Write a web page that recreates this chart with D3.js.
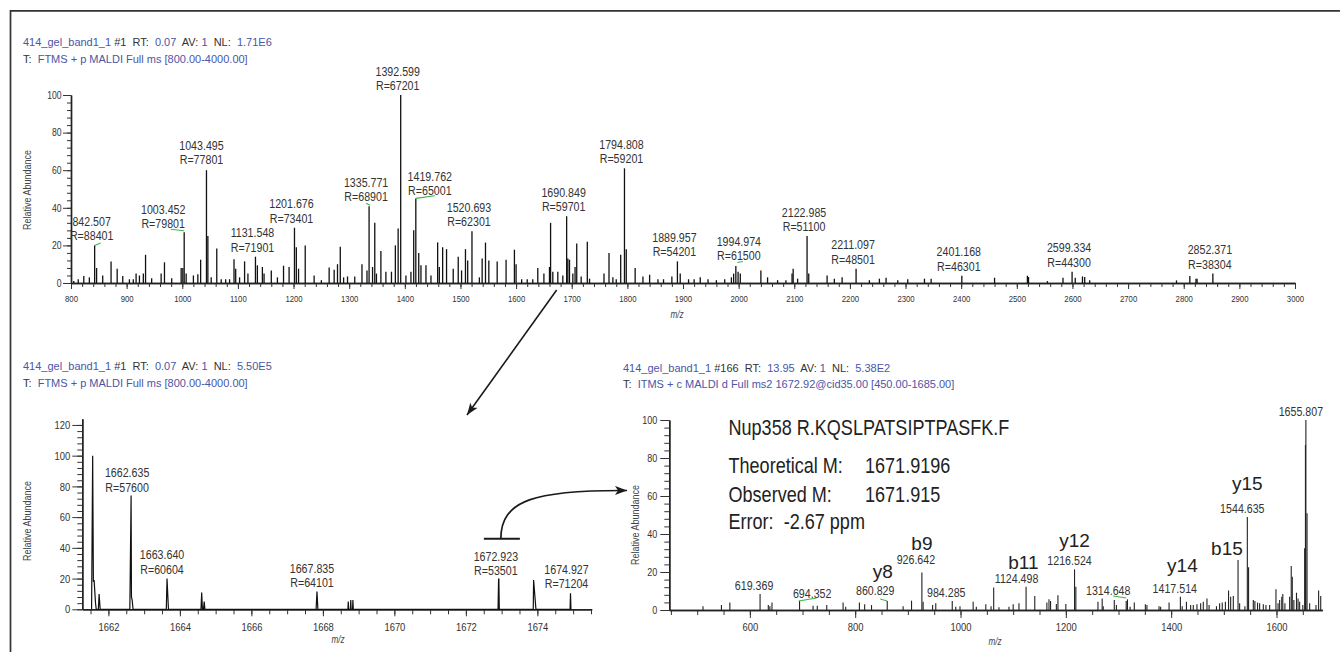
<!DOCTYPE html>
<html>
<head>
<meta charset="utf-8">
<script src="https://cdn.jsdelivr.net/npm/d3@7"></script>
<style>
  body { margin: 0; background: #fff; }
  svg text { white-space: pre; }
</style>
</head>
<body>
<div id="chart"></div>
<script>
// ---------- data ----------

// top: full MS, centroid sticks [m/z, relative abundance]
const topPeaks = [
  [805, 1], [813, 2], [823, 3.7], [833, 3], [842.507, 20], [846, 8], [857, 4], [872, 11.5], [883, 7.6], [893, 3.7],
  [905, 2], [912, 2], [917, 5], [923, 4], [930, 5], [934, 15], [945, 2.5], [962, 5], [968, 11], [981, 2.5],
  [998, 8], [1001, 8], [1003.452, 27], [1007, 5], [1020, 4], [1028, 4.6], [1033, 12.4], [1043.495, 60], [1046, 25], [1052, 3],
  [1062, 18.4], [1070, 2], [1078, 2], [1085, 2], [1093, 12.6], [1096, 7.6], [1103, 3], [1112, 11.5], [1118, 5], [1131.548, 14],
  [1135, 9.4], [1144, 8.5], [1147, 5], [1160, 6.7], [1171, 3], [1182, 9.2], [1192, 8.5], [1201.676, 29.4], [1205, 19], [1209, 7.6],
  [1221, 20], [1237, 4], [1250, 1.5], [1264, 8.3], [1273, 7], [1279, 10], [1284, 19.3], [1290, 3], [1297, 3.5], [1310, 3.5],
  [1323, 10], [1332, 6.7], [1335.771, 40.8], [1342, 8.5], [1346, 32], [1349, 5], [1357, 17], [1366, 6], [1376, 6], [1383, 20],
  [1388, 29], [1392.599, 100], [1402, 4], [1411, 6], [1416, 28], [1419.762, 45], [1425, 16], [1429, 9.4], [1438, 9.4], [1447, 4],
  [1459, 21.6], [1462, 8.5], [1468, 19], [1475, 18], [1487, 7.6], [1496, 14], [1502, 6.7], [1509, 18], [1513, 12], [1520.693, 27.5],
  [1534, 3], [1539, 13], [1545, 21.5], [1551, 12], [1566, 11.5], [1582, 12.4], [1597, 17.7], [1600, 10], [1610, 2], [1620, 2],
  [1630, 2], [1639, 8], [1650, 5], [1660, 8.5], [1662, 32], [1666, 6], [1675, 6], [1684, 4], [1690.849, 35.5], [1693, 13],
  [1696, 12.4], [1702, 5], [1706, 8.5], [1709, 21], [1717, 3.5], [1728, 22], [1732, 2.3], [1758, 5], [1767, 16], [1774, 3],
  [1780, 2], [1788, 15], [1794.808, 61], [1798, 18], [1814, 8], [1828, 3.5], [1840, 4.4], [1855, 2], [1865, 2], [1880, 3.5],
  [1889.957, 11.5], [1895, 5], [1910, 2], [1920, 2], [1931, 3], [1945, 2], [1960, 1.5], [1975, 2], [1987, 3], [1991, 5],
  [1994.974, 9], [1999, 6], [2003, 5], [2040, 6.7], [2052, 3], [2070, 1.5], [2085, 1.5], [2096, 5], [2098, 7.6], [2106, 2.3],
  [2122.985, 25], [2126, 5], [2159, 4], [2172, 2.3], [2186, 3], [2211.097, 7.6], [2235, 1.5], [2253, 2.3], [2265, 2.8], [2286, 1.4],
  [2304, 2], [2334, 2.3], [2346, 2.3], [2401.168, 3.9], [2460, 2.8], [2519, 3.9], [2521, 3.2], [2555, 1], [2583, 2.8], [2599.334, 6],
  [2605, 2.8], [2618, 3.5], [2622, 3.2], [2631, 1.4], [2787, 1.4], [2811, 3.7], [2822, 2.3], [2824, 2.3], [2852.371, 5]
];
const topLabelMz = [842.507, 1003.452, 1043.495, 1131.548, 1201.676, 1335.771, 1392.599, 1419.762, 1520.693,
  1690.849, 1794.808, 1889.957, 1994.974, 2122.985, 2211.097, 2401.168, 2599.334, 2852.371];
const topLabelR = ["R=88401", "R=79801", "R=77801", "R=71901", "R=73401", "R=68901", "R=67201", "R=65001", "R=62301",
  "R=59701", "R=59201", "R=54201", "R=61500", "R=51100", "R=48501", "R=46301", "R=44300", "R=38304"];

// bottom left: zoomed full MS, profile points [m/z, relative abundance]
const zoomProfile = [
  [1661.53, 0], [1661.56, 100], [1661.58, 18], [1661.60, 19], [1661.64, 4], [1661.66, 0], [1661.72, 0], [1661.74, 10], [1661.77, 0],
  [1662.60, 0], [1662.635, 74], [1662.645, 8], [1662.665, 6], [1662.69, 0],
  [1663.62, 0], [1663.64, 20], [1663.68, 0],
  [1664.59, 0], [1664.61, 11], [1664.63, 0], [1664.66, 0], [1664.68, 5], [1664.70, 0],
  [1667.81, 0], [1667.835, 11.5], [1667.86, 0],
  [1668.70, 0], [1668.71, 5], [1668.72, 0], [1668.77, 0], [1668.78, 6], [1668.79, 0], [1668.83, 0], [1668.84, 6], [1668.85, 0],
  [1672.90, 0], [1672.915, 19.6], [1672.923, 19.6], [1672.935, 0],
  [1673.885, 0], [1673.895, 19], [1673.96, 0],
  [1674.915, 0], [1674.927, 10.5], [1674.94, 0]
];
const zoomLabelMz = [1662.635, 1663.640, 1667.835, 1672.923, 1674.927];
const zoomLabelInt = [74, 20, 11.5, 19.6, 10.5];
const zoomLabelR = ["R=57600", "R=60604", "R=64101", "R=53501", "R=71204"];
const precursorMz = 1672.923;

// bottom right: MS2 sticks [m/z, relative abundance]
const ms2Peaks = [
  [511, 2], [546, 2.6], [562, 3.9], [619.369, 8.4], [635, 2.6], [638, 2], [642, 4], [694.352, 4.7], [720, 2.3], [728, 2.3],
  [746, 2.6], [777, 3.9], [782, 1.7], [808, 3.9], [818, 3], [831, 2.6], [860.829, 4.7], [891, 2], [907, 4.9], [926.642, 19.8],
  [929, 4.4], [947, 2.6], [953, 3.5], [984.285, 4.7], [991, 1.7], [999, 2], [1024, 4.4], [1030, 1.7], [1048, 3], [1058, 2],
  [1063, 11.8], [1073, 1.4], [1092, 1.7], [1100, 3], [1111, 3.5], [1124.498, 12.3], [1141, 7.4], [1164, 3.9], [1168, 5.6], [1171, 4.7],
  [1182, 3.2], [1185, 7.7], [1200, 3.2], [1216.524, 21.4], [1219, 12.3], [1261, 4.4], [1269, 6.1], [1271, 2], [1292, 5.3], [1296, 2.6],
  [1314.648, 4.7], [1317, 5.6], [1322, 1.7], [1330, 3.9], [1351, 3], [1354, 2.6], [1377, 2], [1380, 1.7], [1396, 3.9], [1417.514, 7],
  [1421, 2], [1429, 4.4], [1437, 2.6], [1442, 2.6], [1449, 3], [1456, 3.5], [1461, 4.4], [1468, 6.1], [1472, 2.6], [1486, 2],
  [1492, 3.5], [1497, 3.9], [1503, 4.4], [1509, 10.2], [1513, 7], [1518, 7.4], [1527, 26.3], [1530, 3.5], [1540, 2], [1544.635, 49],
  [1547, 22.5], [1556, 5.3], [1559, 4.7], [1564, 3.9], [1568, 3.5], [1575, 3], [1580, 2.6], [1587, 2.6], [1599, 10.9], [1603, 3.5],
  [1606, 5.3], [1610, 7], [1612, 8.4], [1616, 3.5], [1625, 7], [1628, 23.2], [1630, 17.5], [1633, 5.3], [1638, 9.1], [1641, 6.1],
  [1644, 4.4], [1650, 2.6], [1653.5, 32.5], [1655, 86.8], [1655.807, 100], [1658, 50.9], [1663, 3.5], [1675, 2.6], [1680, 10.2], [1684, 7.4]
];
const ms2LabelMz = [619.369, 694.352, 860.829, 926.642, 984.285, 1124.498, 1216.524, 1314.648, 1417.514, 1544.635, 1655.807];
const ionNames = ["y8", "b9", "b11", "y12", "y14", "b15", "y15"];
const ionMz = [860.829, 926.642, 1124.498, 1216.524, 1417.514, 1527, 1544.635];

const peptideLines = [
  ["Nup358 R.KQSLPATSIPTPASFK.F", ""],
  ["Theoretical M:", "1671.9196"],
  ["Observed M:", "1671.915"],
  ["Error:  -2.67 ppm", ""]
];

const titles = {
  top: [[["414_gel_band1_1", 1], [" #1  RT:  ", 0], ["0.07", 1], ["  AV: ", 0], ["1", 1], ["  NL:  ", 0], ["1.71E6", 1]],
        [["T:  ", 0], ["FTMS + p MALDI Full ms [800.00-4000.00]", 1]]],
  zoom: [[["414_gel_band1_1", 1], [" #1  RT:  ", 0], ["0.07", 1], ["  AV: ", 0], ["1", 1], ["  NL:  ", 0], ["5.50E5", 1]],
         [["T:  ", 0], ["FTMS + p MALDI Full ms [800.00-4000.00]", 1]]],
  ms2: [[["414_gel_band1_1", 1], [" #166  RT:  ", 0], ["13.95", 1], ["  AV: ", 0], ["1", 1], ["  NL:  ", 0], ["5.38E2", 1]],
        [["T:  ", 0], ["ITMS + c MALDI d Full ms2 1672.92@cid35.00 [450.00-1685.00]", 1]]]
};

// ---------- drawing ----------
const FONT = '"Liberation Sans", Arial, "Noto Sans", sans-serif';
const SX = 0.82;   // horizontal squeeze, stands in for the condensed face of the original
const BLUE = "#4a56a6", GREEN = "#3fb34f";

const svg = d3.select("#chart").append("svg")
    .attr("width", 1340).attr("height", 652)
    .attr("font-family", FONT);

// frame (only top and left edges are inside the picture)
svg.append("path")
    .attr("d", "M10.5,652 V10.8 H1340")
    .attr("fill", "none").attr("stroke", "#333").attr("stroke-width", 1.7);

svg.append("defs").append("marker").attr("id", "head")
    .attr("markerUnits", "userSpaceOnUse")
    .attr("markerWidth", 13).attr("markerHeight", 10)
    .attr("refX", 12).attr("refY", 4.5).attr("orient", "auto")
  .append("path").attr("d", "M0,0 L12,4.5 L0,9 L3,4.5 Z").attr("fill", "#1a1a1a");

// condensed text helper
function ctext(x, y, str, size, anchor, sx) {
    return svg.append("text")
        .attr("transform", `translate(${x},${y}) scale(${sx || SX},1)`)
        .attr("text-anchor", anchor || "start")
        .attr("font-size", size).attr("fill", "#333")
        .text(str);
}

function squeezeTicks(sel) {
    sel.selectAll("text").each(function () {
        const t = d3.select(this);
        const x0 = +t.attr("x") || 0;
        t.attr("x", x0 / SX).attr("transform", `scale(${SX},1)`);
    });
}

function drawTitle(lines, x, y1, y2) {
    [y1, y2].forEach((yy, i) => {
        const t = svg.append("text").attr("x", x).attr("y", yy)
            .attr("font-size", 11).attr("xml:space", "preserve");
        lines[i].forEach(p => t.append("tspan").attr("fill", p[1] ? BLUE : "#333").text(p[0]));
    });
}

function drawAxes(x, y, o) {
    const xa = svg.append("g").attr("transform", `translate(0,${y(0)})`).attr("color", "#333");
    xa.append("g").call(d3.axisBottom(x).tickValues(o.xMinor).tickSize(o.xMinorLen).tickSizeOuter(0).tickFormat(""));
    xa.append("g").call(d3.axisBottom(x).tickValues(o.xMajor).tickSize(o.xMajorLen).tickSizeOuter(0)
            .tickPadding(o.xPad).tickFormat(d3.format("d")))
        .attr("font-family", FONT).attr("font-size", o.xFont)
        .call(squeezeTicks);
    const ya = svg.append("g").attr("transform", `translate(${x.range()[0]},0)`).attr("color", "#333");
    ya.append("g").call(d3.axisLeft(y).tickValues(o.yMinor).tickSize(o.yMinorLen).tickSizeOuter(0).tickFormat(""));
    ya.append("g").call(d3.axisLeft(y).tickValues(o.yMajor).tickSize(o.yMajorLen).tickSizeOuter(0).tickPadding(o.yPad))
        .attr("font-family", FONT).attr("font-size", o.yFont)
        .call(squeezeTicks);
    svg.selectAll(".domain").attr("stroke", "#222").attr("stroke-width", 1.4);
    svg.selectAll(".tick line").attr("stroke-width", 1);

    svg.append("text")
        .attr("transform", `translate(${o.yLabelX},${o.yLabelY}) rotate(-90) scale(${SX},1)`)
        .attr("text-anchor", "middle").attr("font-size", 11).attr("fill", "#444")
        .text("Relative Abundance");
    ctext(o.mzX, o.mzY, "m/z", 10, "middle").attr("font-style", "italic").attr("fill", "#444");
}

function twoLineLabel(cx, base, l1, l2) {
    ctext(cx, base - 14.5, l1, 13, "middle");
    ctext(cx, base, l2, 13, "middle");
}

function leader(x1, y1, x2, y2) {
    svg.append("line").attr("x1", x1).attr("y1", y1).attr("x2", x2).attr("y2", y2)
        .attr("stroke", GREEN).attr("stroke-width", 1.1);
}

// ===== top panel =====
drawTitle(titles.top, 23, 46, 63);

const xTop = d3.scaleLinear().domain([800, 3000]).range([71, 1295]);
const yTop = d3.scaleLinear().domain([0, 100]).range([283, 95]);

drawAxes(xTop, yTop, {
    xMinor: d3.range(800, 3001, 20), xMajor: d3.range(800, 3001, 100),
    xMinorLen: 4, xMajorLen: 6, xPad: 6.3, xFont: 9.5,
    yMinor: d3.range(0, 101, 4), yMajor: d3.range(0, 101, 20),
    yMinorLen: 4, yMajorLen: 8, yPad: 1.5, yFont: 10.5,
    yLabelX: 31, yLabelY: 190, mzX: 677, mzY: 318
});

svg.append("g").selectAll("line").data(topPeaks).join("line")
    .attr("x1", d => xTop(d[0])).attr("x2", d => xTop(d[0]))
    .attr("y1", yTop(0)).attr("y2", d => yTop(d[1]))
    .attr("stroke", "#111").attr("stroke-width", 1.3);

// label nudges [dx, dy of the R= baseline] relative to the peak top
const topNudge = { "1003.452": [-21, -4], "1043.495": [-5, -6], "1419.762": [14, -3], "1994.974": [3, -5.7] };
const topLeader = {
    "842.507": [0, 0, 6, -2.5], "1003.452": [-13.5, -3, 0, -1.5], "1335.771": [-3, -3, 1, -1],
    "1419.762": [0, 0, 19, -2.7], "1994.974": [1.5, -3.5, 7, -4.5]
};
topLabelMz.forEach((mz, i) => {
    const pk = topPeaks.find(p => Math.abs(p[0] - mz) < 0.01);
    const px = xTop(mz), py = yTop(pk[1]);
    const n = topNudge[String(mz)] || [-3, -5];
    twoLineLabel(px + n[0], py + n[1], mz.toFixed(3), topLabelR[i]);
    const l = topLeader[String(mz)];
    if (l) leader(px + l[0], py + l[1], px + l[2], py + l[3]);
});

// ===== bottom-left panel =====
drawTitle(titles.zoom, 23, 370, 387);

const xZoom = d3.scaleLinear().domain([1661.27, 1675.52]).range([82.3, 591.7]);
const yZoom = d3.scaleLinear().domain([0, 124]).range([609.3, 418.8]);

drawAxes(xZoom, yZoom, {
    xMinor: d3.range(1661.5, 1675.6, 0.5), xMajor: d3.range(1662, 1675, 2),
    xMinorLen: 5, xMajorLen: 7, xPad: 6.5, xFont: 11.5,
    yMinor: d3.range(0, 121, 4), yMajor: d3.range(0, 121, 20),
    yMinorLen: 5, yMajorLen: 10, yPad: 2, yFont: 11.5,
    yLabelX: 31, yLabelY: 521, mzX: 338, mzY: 643
});

svg.append("path").datum(zoomProfile)
    .attr("d", d3.line().x(d => xZoom(d[0])).y(d => yZoom(d[1])))
    .attr("fill", "none").attr("stroke", "#111").attr("stroke-width", 1.2);

const zoomNudge = [[-4, -4], [-5, -4.6], [-5, -4.6], [-3, -4], [-4, -5]];
zoomLabelMz.forEach((mz, i) => {
    twoLineLabel(xZoom(mz) + zoomNudge[i][0], yZoom(zoomLabelInt[i]) + zoomNudge[i][1], mz.toFixed(3), zoomLabelR[i]);
});

// ===== bottom-right panel =====
drawTitle(titles.ms2, 623, 372, 388);

const xMs2 = d3.scaleLinear().domain([447, 1687]).range([669.3, 1322.3]);
const yMs2 = d3.scaleLinear().domain([0, 100]).range([610, 420]);

drawAxes(xMs2, yMs2, {
    xMinor: d3.range(450, 1687, 50), xMajor: d3.range(600, 1687, 200),
    xMinorLen: 5, xMajorLen: 8, xPad: 4.7, xFont: 11.5,
    yMinor: d3.range(0, 101, 4), yMajor: d3.range(0, 101, 20),
    yMinorLen: 5, yMajorLen: 9, yPad: 3, yFont: 11,
    yLabelX: 639, yLabelY: 525, mzX: 995, mzY: 645
});

svg.append("g").selectAll("line").data(ms2Peaks).join("line")
    .attr("x1", d => xMs2(d[0])).attr("x2", d => xMs2(d[0]))
    .attr("y1", yMs2(0)).attr("y2", d => yMs2(d[1]))
    .attr("stroke", "#222").attr("stroke-width", 1.1);

const ms2Nudge = {
    "619.369": [-6, -4], "694.352": [12.6, -2.7], "860.829": [-12, -6], "926.642": [-6, -8], "984.285": [-6, -4],
    "1124.498": [-9.5, -3.3], "1216.524": [-5, -4], "1314.648": [-18, -6], "1417.514": [-5.6, -3.7],
    "1544.635": [-5, -4], "1655.807": [-5, -4]
};
const ms2Leader = { "694.352": [-1, 0, 17, -3], "860.829": [-7, -2, 0, 0], "1314.648": [-13, -5, 0, -3] };
const ms2Int = mz => ms2Peaks.find(p => Math.abs(p[0] - mz) < 0.01)[1];

ms2LabelMz.forEach(mz => {
    const px = xMs2(mz), py = yMs2(ms2Int(mz));
    const n = ms2Nudge[String(mz)];
    ctext(px + n[0], py + n[1], mz.toFixed(3), 13, "middle");
    const l = ms2Leader[String(mz)];
    if (l) leader(px + l[0], py + l[1], px + l[2], py + l[3]);
});

const ionNudge = { y8: [-4.4, -22.7], b9: [0, -22], b11: [-2.7, -17.6], y12: [0, -22.6], y14: [2, -25], b15: [-11.1, -5], y15: [0, -26.9] };
ionNames.forEach((name, i) => {
    const n = ionNudge[name];
    svg.append("text")
        .attr("x", xMs2(ionMz[i]) + n[0]).attr("y", yMs2(ms2Int(ionMz[i])) + n[1])
        .attr("text-anchor", "middle").attr("font-size", 19).attr("fill", "#222")
        .text(name);
});

const pepY = [435, 472.7, 501.7, 529.3];
peptideLines.forEach((ln, i) => {
    ctext(728.5, pepY[i], ln[0], 21.5, "start", 0.84).attr("fill", "#222");
    if (ln[1]) ctext(865, pepY[i], ln[1], 21.5, "start", 0.84).attr("fill", "#222");
});

// ===== arrows =====
svg.append("line")
    .attr("x1", xTop(precursorMz)).attr("y1", yTop(0) + 7)
    .attr("x2", 467).attr("y2", 415)
    .attr("stroke", "#1a1a1a").attr("stroke-width", 1.6).attr("marker-end", "url(#head)");

const barX = xZoom(precursorMz) + 3, barY = yZoom(46);
svg.append("line").attr("x1", barX - 18).attr("x2", barX + 18).attr("y1", barY).attr("y2", barY)
    .attr("stroke", "#1a1a1a").attr("stroke-width", 2);
svg.append("path")
    .attr("d", `M${barX - 1},${barY} C${barX - 1},500 535,490 627,490.5`)
    .attr("fill", "none").attr("stroke", "#1a1a1a").attr("stroke-width", 1.7).attr("marker-end", "url(#head)");
</script>
</body>
</html>
